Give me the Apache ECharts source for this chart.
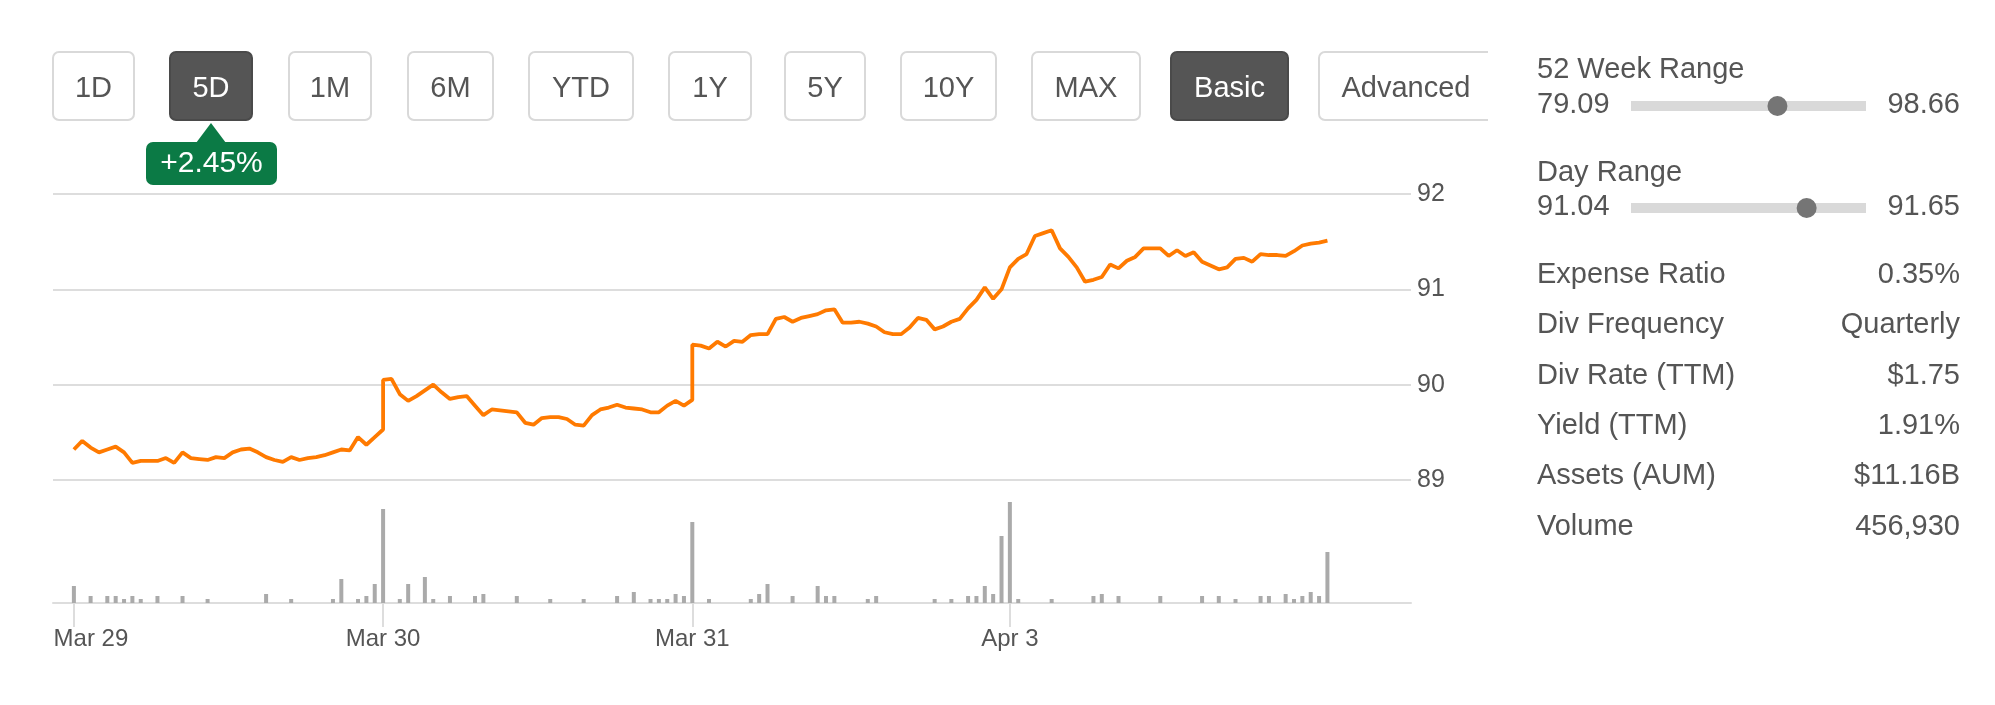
<!DOCTYPE html>
<html>
<head>
<meta charset="utf-8">
<title>5D price chart</title>
<script src="https://cdn.jsdelivr.net/npm/echarts@6/dist/echarts.min.js"></script>
<style>
  html, body { margin: 0; padding: 0; background: #fff; }
  #chart { width: 1995px; height: 705px; }
</style>
</head>
<body>
<div id="chart"></div>
<script>
// sessions shown on the x axis, and the 10-minute slot where each one starts
const dayLabels = ['Mar 29', 'Mar 30', 'Mar 31', 'Apr 3'];
const dayStart = [0, 37, 74, 112];

// price per slot for each session
const day1 = [89.32, 89.41, 89.34, 89.29, 89.32, 89.35, 89.29, 89.18, 89.20, 89.20,
  89.20, 89.23, 89.18, 89.29, 89.23, 89.22, 89.21, 89.24, 89.23, 89.29,
  89.32, 89.33, 89.29, 89.24, 89.21, 89.19, 89.24, 89.21, 89.23, 89.24,
  89.26, 89.29, 89.32, 89.31, 89.45, 89.37, 89.45, 89.53];
const day2 = [90.05, 90.06, 89.90, 89.83, 89.88, 89.94, 90.00, 89.92, 89.85, 89.87,
  89.88, 89.78, 89.68, 89.74, 89.73, 89.72, 89.71, 89.60, 89.58, 89.65,
  89.66, 89.66, 89.64, 89.58, 89.57, 89.68, 89.74, 89.76, 89.79, 89.76,
  89.75, 89.74, 89.71, 89.71, 89.78, 89.83, 89.78, 89.84];
const day3 = [90.42, 90.41, 90.38, 90.45, 90.40, 90.46, 90.45, 90.52, 90.53, 90.53,
  90.69, 90.71, 90.66, 90.70, 90.72, 90.74, 90.78, 90.79, 90.65, 90.65,
  90.66, 90.64, 90.61, 90.55, 90.53, 90.53, 90.60, 90.70, 90.68, 90.58,
  90.61, 90.66, 90.69, 90.80, 90.89, 91.02, 90.90, 91.00, 91.23];
const day4 = [91.23, 91.32, 91.37, 91.56, 91.59, 91.62, 91.43, 91.34, 91.23, 91.08,
  91.10, 91.13, 91.26, 91.22, 91.30, 91.34, 91.43, 91.43, 91.43, 91.35,
  91.41, 91.35, 91.39, 91.29, 91.25, 91.21, 91.23, 91.32, 91.33, 91.29,
  91.37, 91.36, 91.36, 91.35, 91.40, 91.46, 91.48, 91.49, 91.51];

// volume bars: [slot, relative volume]
const volume = [[0, 17], [2, 7], [4, 7], [5, 7], [6, 4], [7, 7], [8, 4], [10, 7], [13, 7],
  [16, 4], [23, 9], [26, 4], [31, 4], [32, 24], [34, 4], [35, 7], [36, 19], [37, 94],
  [39, 4], [40, 19], [42, 26], [43, 4], [45, 7], [48, 7], [49, 9], [53, 7], [57, 4],
  [61, 4], [65, 7], [67, 11], [69, 4], [70, 4], [71, 4], [72, 9], [73, 7], [74, 81],
  [76, 4], [81, 4], [82, 9], [83, 19], [86, 7], [89, 17], [90, 7], [91, 7], [95, 4],
  [96, 7], [103, 4], [105, 4], [107, 7], [108, 7], [109, 17], [110, 9], [111, 67],
  [112, 101], [113, 4], [117, 4], [122, 7], [123, 9], [125, 7], [130, 7], [135, 7],
  [137, 7], [139, 4], [142, 7], [143, 7], [145, 9], [146, 4], [147, 7], [148, 11],
  [149, 7], [150, 51]];

const periodButtons = ['1D', '5D', '1M', '6M', 'YTD', '1Y', '5Y', '10Y', 'MAX', 'Basic', 'Advanced'];
const changeText = '+2.45%';
const weekRange = [79.09, 98.66];
const dayRange = [91.04, 91.65];
const stats = [
  ['Expense Ratio', '0.35%'],
  ['Div Frequency', 'Quarterly'],
  ['Div Rate (TTM)', '$1.75'],
  ['Yield (TTM)', '1.91%'],
  ['Assets (AUM)', '$11.16B'],
  ['Volume', '456,930']
];

const FONT = '"Liberation Sans", Arial, sans-serif';
const TXT = '#555';

const priceData = [];
[day1, day2, day3, day4].forEach((d, i) => {
  d.forEach((v, k) => priceData.push([dayStart[i] + k, v]));
});
const lastPrice = day4[day4.length - 1];

function txt(x, y, text, align, size, color) {
  return {
    type: 'text', x: x, y: y, silent: true,
    style: {
      text: text, fill: color || TXT, font: (size || 29) + 'px ' + FONT,
      align: align || 'left', verticalAlign: 'middle',
      textAlign: align || 'left', textVerticalAlign: 'middle'
    }
  };
}

// button layout [left, width]
const btnBoxes = [[53, 81], [170, 82], [289, 82], [408, 85], [529, 104], [669, 82],
  [785, 80], [901, 95], [1032, 108], [1171, 117], [1319, 181]];
const selected = ['5D', 'Basic'];

const graphics = [];
periodButtons.forEach((b, i) => {
  const [x, w] = btnBoxes[i];
  const on = selected.indexOf(b) >= 0;
  graphics.push({
    type: 'rect', silent: true,
    shape: { x: x, y: 52, width: w, height: 68, r: 6 },
    style: { fill: on ? '#555' : '#fff', stroke: on ? '#4a4a4a' : '#d9d9d9', lineWidth: 2 }
  });
  graphics.push(txt(b === 'Advanced' ? x + 87 : x + w / 2, 89, b, 'center', 29, on ? '#fff' : TXT));
});
// the Advanced button is cut off by its container
graphics.push({ type: 'rect', silent: true, shape: { x: 1488, y: 40, width: 40, height: 90 }, style: { fill: '#fff' } });

// change badge under 5D
graphics.push({
  type: 'polygon', silent: true,
  shape: { points: [[211, 123], [196, 143], [226, 143]] },
  style: { fill: '#0b7a45' }
});
graphics.push({
  type: 'rect', silent: true,
  shape: { x: 146, y: 142, width: 131, height: 43, r: 7 },
  style: { fill: '#0b7a45' }
});
graphics.push(txt(211.5, 164, changeText, 'center', 30, '#fff'));

// range sliders
function slider(yTitle, yRow, title, range) {
  const tx = 1631, tw = 235, kr = 10;
  const f = Math.min(1, Math.max(0, (lastPrice - range[0]) / (range[1] - range[0])));
  graphics.push(txt(1537, yTitle, title));
  graphics.push(txt(1537, yRow, range[0].toFixed(2)));
  graphics.push(txt(1960, yRow, range[1].toFixed(2), 'right'));
  graphics.push({ type: 'rect', silent: true, shape: { x: tx, y: yRow - 4, width: tw, height: 10 }, style: { fill: '#d9d9d9' } });
  graphics.push({ type: 'circle', silent: true, shape: { cx: tx + kr + f * (tw - 2 * kr), cy: yRow + 1, r: kr }, style: { fill: '#757575' } });
}
slider(70, 105, '52 Week Range', weekRange);
slider(173, 207, 'Day Range', dayRange);

stats.forEach((s, i) => {
  const y = 275 + i * 50.3;
  graphics.push(txt(1537, y, s[0]));
  graphics.push(txt(1960, y, s[1], 'right'));
});

const chart = echarts.init(document.getElementById('chart'));
chart.setOption({
  animation: false,
  textStyle: { fontFamily: FONT },
  grid: [
    { left: 53, right: 584, top: 194, height: 286 },
    { left: 53, right: 584, top: 493, height: 110 }
  ],
  xAxis: [
    { gridIndex: 0, type: 'value', min: -2.5, max: 160, show: false },
    {
      gridIndex: 1, type: 'value', min: -2.5, max: 160,
      axisLine: { lineStyle: { color: '#ddd', width: 2 } },
      axisTick: { customValues: dayStart, length: 24, lineStyle: { color: '#ddd', width: 2 } },
      axisLabel: {
        customValues: dayStart, margin: 24, fontSize: 24, color: TXT, fontFamily: FONT,
        formatter: v => {
          const i = dayStart.indexOf(v);
          return i === 0 ? '{first|' + dayLabels[i] + '}' : dayLabels[i];
        },
        rich: { first: { fontSize: 24, color: TXT, fontFamily: FONT, padding: [0, 0, 0, 34] } }
      },
      splitLine: { show: false }
    }
  ],
  yAxis: [
    {
      gridIndex: 0, type: 'value', position: 'right', min: 89, max: 92, interval: 1,
      axisLine: { show: false }, axisTick: { show: false },
      axisLabel: { fontSize: 25, color: TXT, margin: 6, padding: [14, 0, 0, 0], fontFamily: FONT },
      splitLine: { lineStyle: { color: '#ddd', width: 2 } }
    },
    { gridIndex: 1, type: 'value', min: 0, max: 110, show: false, splitLine: { show: false } }
  ],
  series: [
    {
      type: 'line', xAxisIndex: 0, yAxisIndex: 0, data: priceData,
      showSymbol: false, lineStyle: { color: '#ff7a00', width: 3.8 }
    },
    {
      type: 'bar', xAxisIndex: 1, yAxisIndex: 1, data: volume,
      barWidth: 4, itemStyle: { color: '#aaa' }
    }
  ],
  graphic: graphics
});
</script>
</body>
</html>
